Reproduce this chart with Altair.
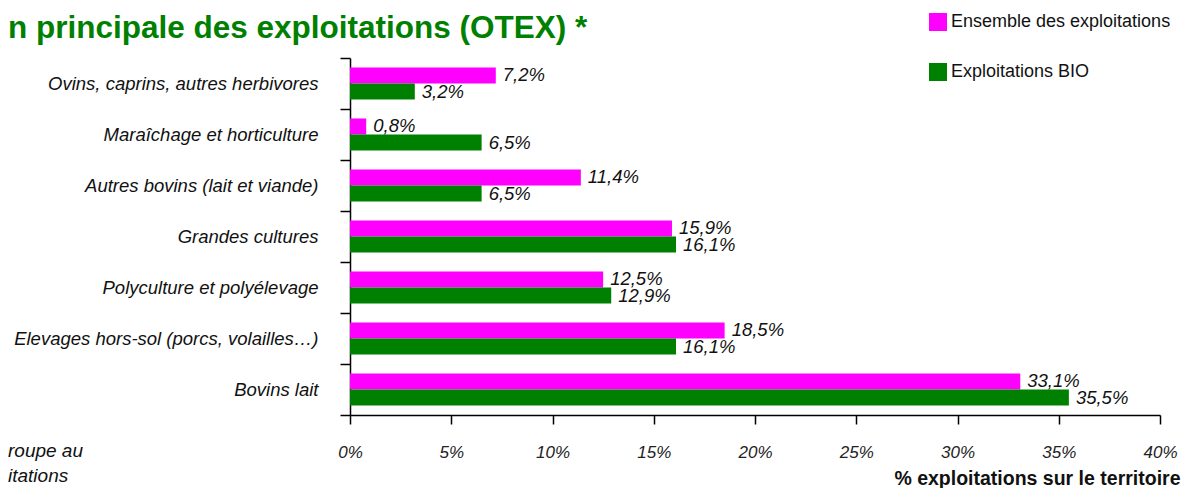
import altair as alt
import pandas as pd

categories = [
    "Ovins, caprins, autres herbivores",
    "Maraîchage et horticulture",
    "Autres bovins (lait et viande)",
    "Grandes cultures",
    "Polyculture et polyélevage",
    "Elevages hors-sol (porcs, volailles…)",
    "Bovins lait",
]
series_names = ["Ensemble des exploitations", "Exploitations BIO"]
ensemble = [7.2, 0.8, 11.4, 15.9, 12.5, 18.5, 33.1]
bio = [3.2, 6.5, 6.5, 16.1, 12.9, 16.1, 35.5]
x_ticks = [0, 5, 10, 15, 20, 25, 30, 35, 40]
colors = ["#FF00FF", "#008000"]
title_text = "n principale des exploitations (OTEX) *"
note_lines = ["roupe au", "itations"]
x_title = "% exploitations sur le territoire"

rows = []
for name, vals in zip(series_names, [ensemble, bio]):
    for c, v in zip(categories, vals):
        rows.append({"cat": c, "series": name, "val": v,
                     "label": f"{v:.1f}".replace(".", ",") + "%"})
df = pd.DataFrame(rows)

SANS = "Liberation Sans, Arial, sans-serif"

y_enc = alt.Y(
    "cat:N", sort=categories,
    scale=alt.Scale(paddingInner=0, paddingOuter=0),
    axis=alt.Axis(
        title=None, tickBand="extent", tickSize=10, labelPadding=22,
        labelFont=SANS, labelFontSize=18.5, labelFontStyle="italic",
        labelColor="#111111", labelLimit=500,
        domainColor="#000000", domainWidth=1.5, tickColor="#000000", tickWidth=1.5,
    ),
)
yoff_enc = alt.YOffset("series:N", sort=series_names,
                       scale=alt.Scale(paddingInner=0, paddingOuter=0.59))
x_enc = alt.X(
    "val:Q",
    scale=alt.Scale(domain=[0, 40], nice=False, zero=True),
    axis=alt.Axis(
        values=x_ticks, labelExpr="datum.value + '%'", grid=False,
        labelFlush=False, labelOverlap=False,
        tickSize=9, labelPadding=20, tickColor="#000000", tickWidth=1.5,
        domainColor="#000000", domainWidth=1.5,
        labelFont=SANS, labelFontSize=17, labelFontStyle="italic",
        labelColor="#222222",
        title=x_title, titleFont=SANS, titleFontSize=19.5, titleFontWeight="bold",
        titleColor="#111111", titleAlign="right", titleAnchor="end",
        titleX=830, titleY=69, titleBaseline="alphabetic",
    ),
)

bars = alt.Chart(df).mark_bar().encode(
    x=x_enc,
    y=y_enc,
    yOffset=yoff_enc,
    color=alt.Color(
        "series:N", sort=series_names,
        scale=alt.Scale(domain=series_names, range=colors),
        legend=alt.Legend(
            title=None, orient="none", legendX=579, legendY=-45,
            symbolType="square", symbolSize=324, symbolStrokeWidth=0,
            symbolOpacity=1, rowPadding=32, labelFont=SANS, labelFontSize=18,
            labelColor="#111111", labelOffset=4, padding=0, labelLimit=400,
        ),
    ),
)

labels = alt.Chart(df).mark_text(
    align="left", baseline="middle", dx=7, font=SANS, fontSize=18.5,
    fontStyle="italic", color="#111111",
).encode(
    x="val:Q", y=alt.Y("cat:N", sort=categories),
    yOffset=alt.YOffset("series:N", sort=series_names),
    text="label:N",
)

note = alt.Chart(pd.DataFrame({"t": ["\n".join(note_lines)]})).mark_text(
    align="left", baseline="alphabetic", font=SANS, fontSize=19,
    fontStyle="italic", color="#111111", lineBreak="\n", lineHeight=25,
).encode(text="t:N", x=alt.value(-342), y=alt.value(399))

title = alt.Chart(pd.DataFrame({"t": [title_text]})).mark_text(
    align="left", baseline="alphabetic", font=SANS, fontSize=31.5,
    fontWeight="bold", color="#008000",
).encode(text="t:N", x=alt.value(-342), y=alt.value(-20))

chart = alt.layer(bars, labels, note, title).properties(
    width=810, height=357,
    autosize=alt.AutoSizeParams(type="none"),
    padding={"left": 342, "top": 50, "right": 23, "bottom": 73},
).configure_view(stroke=None)

chart.save("out.html", embed_options={"renderer": "svg", "actions": False})
